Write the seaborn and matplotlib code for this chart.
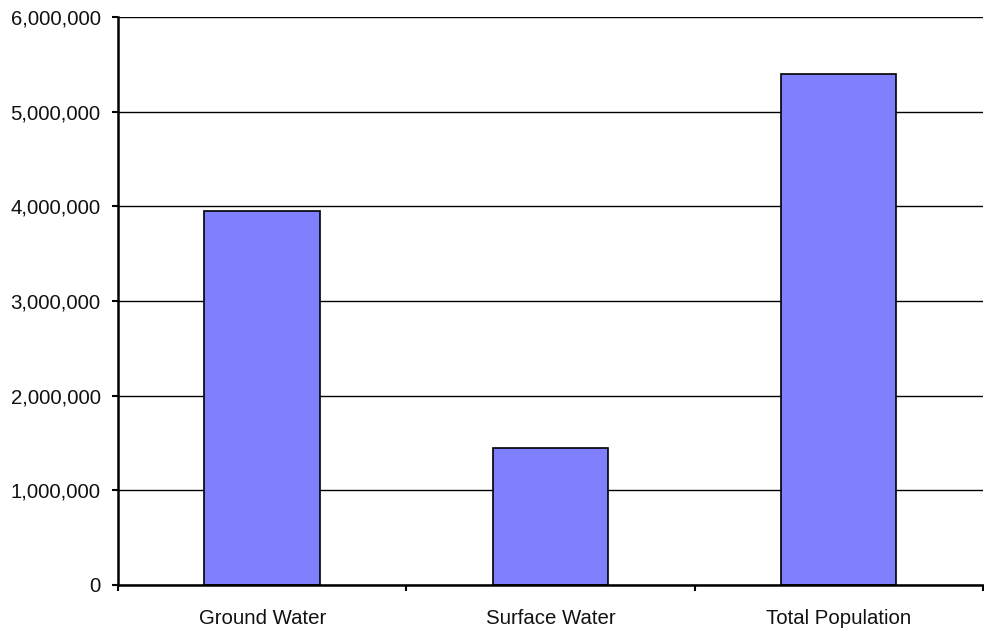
import matplotlib
matplotlib.use("Agg")
import matplotlib.pyplot as plt
import matplotlib.ticker as mticker
import seaborn as sns
import pandas as pd

categories = ["Ground Water", "Surface Water", "Total Population"]
population = [3950000, 1450000, 5400000]
y_ticks = [0, 1000000, 2000000, 3000000, 4000000, 5000000, 6000000]

sns.set_style("white")
plt.rcParams["font.family"] = ["Liberation Sans", "DejaVu Sans"]

df = pd.DataFrame({"source": categories, "population": population})

fig = plt.figure(figsize=(9.84, 6.33), dpi=100)
ax = fig.add_axes([118 / 984, 1 - 585 / 633, (983 - 118) / 984, (585 - 17) / 633])

sns.barplot(data=df, x="source", y="population", color="#8080FF",
            saturation=1, width=0.40, edgecolor="black", linewidth=1.2, ax=ax, zorder=3)

ax.set_xlim(-0.5, 2.5)
ax.set_ylim(0, 6000000)
ax.set_yticks(y_ticks)
ax.yaxis.set_major_formatter(mticker.FuncFormatter(lambda v, p: f"{int(v):,}"))
ax.yaxis.grid(True, color="black", linewidth=1.0, zorder=0)
ax.set_axisbelow(True)

# category labels centred, tick marks on category boundaries
ax.set_xticks([-0.5, 0.5, 1.5, 2.5])
ax.set_xticklabels([])
ax.set_xticks(range(len(categories)), minor=True)
ax.set_xticklabels(categories, minor=True)
ax.tick_params(axis="x", which="major", direction="out", length=4.5, width=1.5, color="black", bottom=True)
ax.tick_params(axis="x", which="minor", length=0, pad=17, labelsize=14.7, labelcolor="#111111")
ax.tick_params(axis="y", direction="out", length=4.5, width=1.5, color="black", left=True,
               labelsize=14.7, pad=8, labelcolor="#111111")

ax.set_xlabel("")
ax.set_ylabel("")
for side in ["top", "right"]:
    ax.spines[side].set_visible(False)
for side in ["left", "bottom"]:
    ax.spines[side].set_color("black")
    ax.spines[side].set_linewidth(1.8)
    ax.spines[side].set_zorder(4)

fig.savefig("out.png", dpi=100, facecolor="white")
